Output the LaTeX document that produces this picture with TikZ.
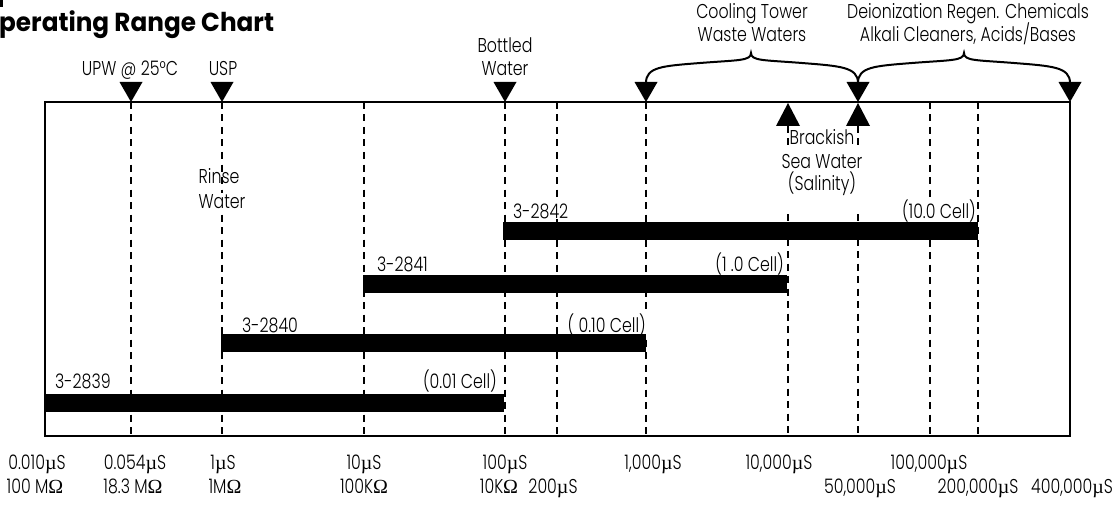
\documentclass[tikz,border=0pt]{standalone}
\usepackage{fontspec}
\setmainfont{Poppins}[UprightFont=* Light, BoldFont=* SemiBold, FakeStretch=0.79]
\newfontfamily\titlefont{Poppins}[UprightFont=* Bold, FakeStretch=0.95]
\newfontfamily\grkfont{Liberation Serif}
\newcommand\uS{{\grkfont µ}S}
\newcommand\Om{{\grkfont Ω}}
\begin{document}
\begin{tikzpicture}[x=1pt,y=-1pt,
  lbl/.style={font=\fontsize{20}{24}\selectfont, inner sep=0pt, anchor=base},
  wlbl/.style={lbl, fill=white, inner sep=1pt},
  gridline/.style={line width=1.6pt, dash pattern=on 7pt off 5.5pt},
  frame/.style={line width=2pt},
  bar/.style={fill=black, inner sep=0pt, minimum height=18pt, anchor=north west},
  brace/.style={line width=2pt},
  downtri/.pic={\fill (-11.5,-20) -- (11.5,-20) -- (0,0) -- cycle;},
  uptri/.pic={\fill (-12,23) -- (12,23) -- (0,0) -- cycle;}]
\useasboundingbox (0,0) rectangle (1119,508);
% title
\fill (0,0) rectangle (3,7);
\node[anchor=base west, inner sep=0pt, font=\titlefont\fontsize{26}{30}\selectfont] (title) at (-1,32) {perating Range Chart};
% grid lines
\foreach \gx in {131,222,364,505,557,646,930,978}
  \draw[gridline] (\gx,102) -- (\gx,436);
\foreach \gx in {788,858}
  \draw[gridline] (\gx,126) -- (\gx,436);
% frame
\draw[frame] (45,102) rectangle (1070,436);
% markers
\coordinate (mUPW) at (131,102);
\coordinate (mUSP) at (222,102);
\coordinate (mBot) at (505,102);
\coordinate (mK1) at (646,102);
\coordinate (mK50) at (858,102);
\coordinate (mK400) at (1070,102);
\coordinate (mBr1) at (788,103);
\coordinate (mBr2) at (858,103);
\foreach \m in {mUPW,mUSP,mBot,mK1,mK50,mK400} \pic at (\m) {downtri};
\foreach \m in {mBr1,mBr2} \pic at (\m) {uptri};
\coordinate (tK1) at (646,83);
\coordinate (tK50) at (858,83);
\coordinate (tK400) at (1070,83);
% braces
\draw[brace] (tK1) .. controls (646,67) and (662,66) .. (700,63) .. controls (738,60) and (751,61) .. (751,53)
  .. controls (751,61) and (764,60) .. (802,63) .. controls (840,66) and (858,67) .. (tK50);
\draw[brace] (tK50) .. controls (858,67) and (874,66) .. (912,63) .. controls (950,60) and (964,61) .. (964,53)
  .. controls (964,61) and (976,60) .. (1014,63) .. controls (1052,66) and (1070,67) .. (tK400);
% top labels
\node[lbl] (upw) at (130,76) {UPW @ 25°C};
\node[lbl] (usp) at (223,76) {USP};
\node[lbl] (bot1) at (505,53) {Bottled};
\node[lbl] (bot2) at (505,76) {Water};
\node[lbl] (cool1) at (752,19) {Cooling Tower};
\node[lbl] (cool2) at (752,42) {Waste Waters};
\node[lbl] (dei1) at (968,19) {Deionization Regen. Chemicals};
\node[lbl] (dei2) at (968,42) {Alkali Cleaners, Acids/Bases};
% middle labels
\node[lbl] (rin1) at (219,183) {Rinse};
\node[wlbl] (rin2) at (222,208) {Water};
\fill[white] (780,149) rectangle (865,214);
\node[lbl] (br1) at (822,145) {Brackish};
\node[lbl] (br2) at (822,168) {Sea Water};
\node[lbl] (br3) at (822,190) {(Salinity)};
% bar labels
\node[wlbl, anchor=base west] (l2842) at (512,218) {3-2842};
\node[wlbl, anchor=base east] (c2842) at (977,218) {(10.0 Cell)};
\node[wlbl, anchor=base west] (l2841) at (376,271) {3-2841};
\node[wlbl, anchor=base east] (c2841) at (785,271) {(1 .0 Cell)};
\node[wlbl, anchor=base west] (l2840) at (241,332) {3-2840};
\node[wlbl, anchor=base east] (c2840) at (647,332) {( 0.10 Cell)};
\node[wlbl, anchor=base west] (l2839) at (54,388) {3-2839};
\node[wlbl, anchor=base east] (c2839) at (498,388) {(0.01 Cell)};
% bars
\node[bar, minimum width=475pt] (b2842) at (503,222) {};
\node[bar, minimum width=424pt] (b2841) at (363,275) {};
\node[bar, minimum width=425pt] (b2840) at (221,334) {};
\node[bar, minimum width=459pt] (b2839) at (45,394) {};
% axis labels row 1
\node[lbl] (a1) at (37,469) {0.010\uS};
\node[lbl] (a2) at (135,469) {0.054\uS};
\node[lbl] (a3) at (223,469) {1\uS};
\node[lbl] (a4) at (364,469) {10\uS};
\node[lbl] (a5) at (505,469) {100\uS};
\node[lbl] (a6) at (653,469) {1,000\uS};
\node[lbl] (a7) at (779,469) {10,000\uS};
\node[lbl] (a8) at (929,469) {100,000\uS};
% axis labels row 2
\node[lbl] (r1) at (35,493) {100 M\Om};
\node[lbl] (r2) at (133,493) {18.3 M\Om};
\node[lbl] (r3) at (225,493) {1M\Om};
\node[lbl] (r4) at (364,493) {100K\Om};
\node[lbl] (r5) at (499,493) {10K\Om};
\node[lbl] (r6) at (553,493) {200\uS};
\node[lbl] (r7) at (860,493) {50,000\uS};
\node[lbl] (r8) at (978,493) {200,000\uS};
\node[lbl] (r9) at (1072,493) {400,000\uS};
\end{tikzpicture}
\end{document}
